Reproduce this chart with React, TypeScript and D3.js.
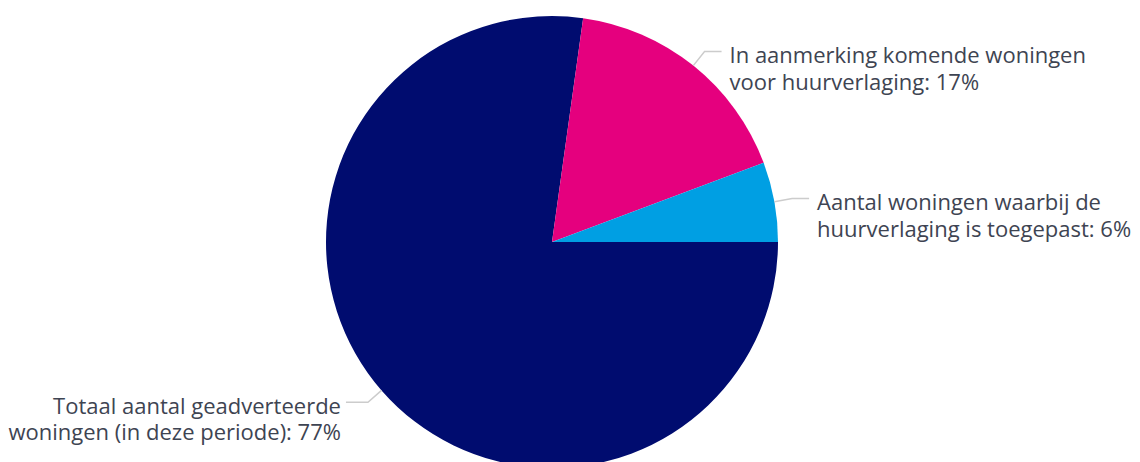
import React from "react";
import * as d3 from "d3";

const categories = [
  "Totaal aantal geadverteerde woningen (in deze periode)",
  "In aanmerking komende woningen voor huurverlaging",
  "Aantal woningen waarbij de huurverlaging is toegepast",
];
const labelLines = [
  ["Totaal aantal geadverteerde", "woningen (in deze periode): "],
  ["In aanmerking komende woningen", "voor huurverlaging: "],
  ["Aantal woningen waarbij de", "huurverlaging is toegepast: "],
];
const values = [77.2, 17.1, 5.7];
const colors = ["#000c6f", "#e5007e", "#009fe3"];

const W = 1140;
const H = 462;
const cx = 552;
const cy = 242;
const R = 226;

export default function App() {
  const total = d3.sum(values);
  const pie = d3
    .pie<number>()
    .sort(null)
    .startAngle(Math.PI / 2)
    .endAngle(Math.PI / 2 + Math.PI * 2);
  const arcs = pie(values);
  const arc = d3.arc<d3.PieArcDatum<number>>().innerRadius(0).outerRadius(R);

  return (
    <svg
      width={W}
      height={H}
      style={{ position: "absolute", left: 0, top: 0, display: "block" }}
      fontFamily="'Open Sans', sans-serif"
    >
      <g transform={`translate(${cx},${cy})`}>
        {arcs.map((a, i) => (
          <path key={categories[i]} d={arc(a) || ""} fill={colors[i]} />
        ))}
        {arcs.map((a, i) => {
          const mid = (a.startAngle + a.endAngle) / 2;
          const sx = Math.sin(mid);
          const sy = -Math.cos(mid);
          const p0 = [sx * R, sy * R];
          const p1 = [sx * (R + 18), sy * (R + 18)];
          const right = sx > 0;
          const p2x = p1[0] + (right ? 17 : -22);
          const tx = p2x + (right ? 8 : -5);
          const pct = Math.round((values[i] / total) * 100);
          const lines = [labelLines[i][0], labelLines[i][1] + pct + "%"];
          return (
            <g key={"l" + i}>
              <path
                d={`M${p0[0]},${p0[1]}L${p1[0]},${p1[1]}L${p2x},${p1[1]}`}
                fill="none"
                stroke="#cccccc"
                strokeWidth={1.5}
              />
              <text
                x={tx}
                y={p1[1] + 11.5}
                fontSize={22}
                fill="#3e4452"
                textAnchor={right ? "start" : "end"}
              >
                {lines.map((ln, j) => (
                  <tspan key={j} x={tx} dy={j === 0 ? 0 : 26.5}>
                    {ln}
                  </tspan>
                ))}
              </text>
            </g>
          );
        })}
      </g>
    </svg>
  );
}
